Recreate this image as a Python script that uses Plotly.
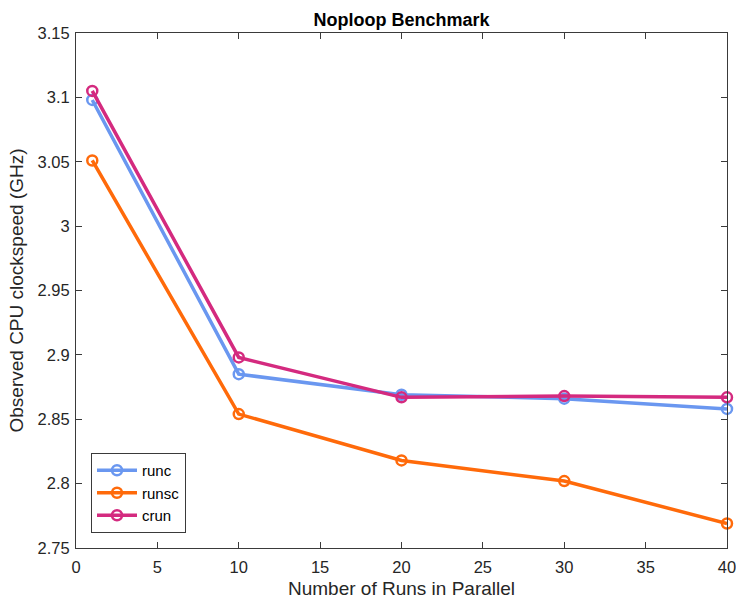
import plotly.graph_objects as go

runs = [1, 10, 20, 30, 40]
runc = [3.098, 2.885, 2.869, 2.866, 2.858]
runsc = [3.051, 2.854, 2.818, 2.802, 2.769]
crun = [3.105, 2.898, 2.867, 2.868, 2.867]

series_names = ["runc", "runsc", "crun"]
series_vals = [runc, runsc, crun]
colors = ["#6A97F0", "#FF6A0A", "#D42A7F"]

x_ticks = [0, 5, 10, 15, 20, 25, 30, 35, 40]
y_ticks = [2.75, 2.8, 2.85, 2.9, 2.95, 3.0, 3.05, 3.1, 3.15]
y_tick_text = ["2.75", "2.8", "2.85", "2.9", "2.95", "3", "3.05", "3.1", "3.15"]

fig = go.Figure()
for name, vals, col in zip(series_names, series_vals, colors):
    fig.add_trace(go.Scatter(
        x=runs, y=vals, name=name, mode="lines+markers",
        line=dict(color=col, width=3.5),
        marker=dict(symbol="circle-open", size=10, color=col, line=dict(width=2.5, color=col)),
        cliponaxis=False,
    ))

font_fam = "Liberation Sans, Arial, sans-serif"
axis_common = dict(
    showline=True, linecolor="#3a3a3a", linewidth=1, mirror="ticks",
    ticks="inside", ticklen=6, tickcolor="#3a3a3a", showgrid=False, zeroline=False,
    automargin=False, ticklabeloverflow="allow",
    tickfont=dict(family=font_fam, size=16.5, color="#262626"),
)
fig.update_layout(
    width=736, height=599,
    margin=dict(l=76, r=9, t=33, b=51),
    paper_bgcolor="white", plot_bgcolor="white",
    title=dict(text="<b>Noploop Benchmark</b>", x=(76 + 727) / 2 / 736, xref="container", xanchor="center",
               y=1 - 20 / 599, yanchor="middle",
               font=dict(family=font_fam, size=18, color="black")),
    xaxis=dict(range=[0, 40], tickvals=x_ticks, ticklabelstandoff=4,
               title=dict(text="Number of Runs in Parallel", standoff=6,
                          font=dict(family=font_fam, size=19, color="#262626")),
               **axis_common),
    yaxis=dict(range=[2.75, 3.15], tickvals=y_ticks, ticktext=y_tick_text, ticklabelstandoff=2,
               title=dict(text="Observed CPU clockspeed (GHz)", standoff=8,
                          font=dict(family=font_fam, size=19, color="#262626")),
               **axis_common),
    legend=dict(x=(91 - 76) / 651, y=(548 - 533) / 515, xanchor="left", yanchor="bottom",
                bordercolor="#3a3a3a", borderwidth=1, bgcolor="white",
                font=dict(family=font_fam, size=15, color="black"),
                tracegroupgap=0, itemwidth=40),
    showlegend=True,
)
fig.write_html("out.html")
